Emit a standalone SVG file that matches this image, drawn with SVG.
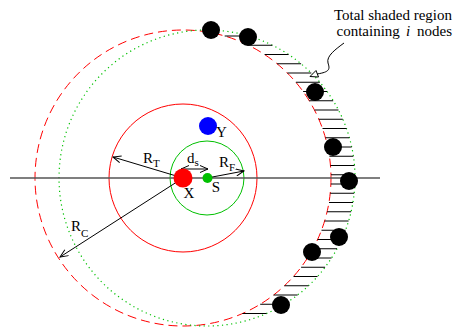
<svg xmlns="http://www.w3.org/2000/svg" width="459" height="327" viewBox="0 0 459 327">
<defs>
<style>
text{font-family:"Liberation Serif","Times New Roman",serif;fill:#000}
.lbl{font-size:15px}
.sub{font-size:11px}
.hatch line{stroke:#000;stroke-width:1}
.arr{stroke:#000;stroke-width:1;fill:none}
</style>
<marker id="ah" markerUnits="userSpaceOnUse" markerWidth="10" markerHeight="8" refX="9" refY="4" orient="auto-start-reverse">
<path d="M1,0.5 L9,4 L1,7.5" fill="none" stroke="#000" stroke-width="1"/>
</marker>
</defs>
<rect width="459" height="327" fill="#fff"/>
<g id="regions">
<circle cx="183" cy="178" r="148" fill="none" stroke="#f00" stroke-width="1" stroke-dasharray="9,5"/>
<circle cx="207" cy="178" r="148" fill="none" stroke="#00c000" stroke-width="1.2" stroke-dasharray="1.2,3.4"/>
<circle cx="183" cy="178" r="74" fill="none" stroke="#f00" stroke-width="1"/>
<circle cx="207" cy="178" r="37" fill="none" stroke="#00c000" stroke-width="1"/>
<line x1="10" y1="178" x2="380" y2="178" stroke="#555" stroke-width="1.3"/>
</g>
<g class="hatch" id="hatch">
<line x1="224.7" y1="36" x2="248.7" y2="36"/>
<line x1="248.4" y1="45.25" x2="272.4" y2="45.25"/>
<line x1="264.6" y1="54.5" x2="288.6" y2="54.5"/>
<line x1="277.1" y1="63.75" x2="301.1" y2="63.75"/>
<line x1="287.3" y1="73" x2="311.3" y2="73"/>
<line x1="295.9" y1="82.25" x2="319.9" y2="82.25"/>
<line x1="303.1" y1="91.5" x2="327.1" y2="91.5"/>
<line x1="309.2" y1="100.75" x2="333.2" y2="100.75"/>
<line x1="314.5" y1="110" x2="338.5" y2="110"/>
<line x1="318.8" y1="119.25" x2="342.8" y2="119.25"/>
<line x1="322.5" y1="128.5" x2="346.5" y2="128.5"/>
<line x1="325.4" y1="137.75" x2="349.4" y2="137.75"/>
<line x1="327.7" y1="147" x2="351.7" y2="147"/>
<line x1="329.4" y1="156.25" x2="353.4" y2="156.25"/>
<line x1="330.5" y1="165.5" x2="354.5" y2="165.5"/>
<line x1="331" y1="174.75" x2="355" y2="174.75"/>
<line x1="330.9" y1="184" x2="354.9" y2="184"/>
<line x1="330.2" y1="193.25" x2="354.2" y2="193.25"/>
<line x1="329" y1="202.5" x2="353" y2="202.5"/>
<line x1="327.1" y1="211.75" x2="351.1" y2="211.75"/>
<line x1="324.6" y1="221" x2="348.6" y2="221"/>
<line x1="321.5" y1="230.25" x2="345.5" y2="230.25"/>
<line x1="317.6" y1="239.5" x2="341.6" y2="239.5"/>
<line x1="313" y1="248.75" x2="337" y2="248.75"/>
<line x1="307.5" y1="258" x2="331.5" y2="258"/>
<line x1="301.1" y1="267.25" x2="325.1" y2="267.25"/>
<line x1="293.5" y1="276.5" x2="317.5" y2="276.5"/>
<line x1="284.5" y1="285.75" x2="308.5" y2="285.75"/>
<line x1="273.6" y1="295" x2="297.6" y2="295"/>
<line x1="260.2" y1="304.25" x2="284.2" y2="304.25"/>
<line x1="242.5" y1="313.5" x2="266.5" y2="313.5"/>
</g>
<g id="connectors">
<line class="arr" x1="183" y1="178" x2="113" y2="157" marker-end="url(#ah)"/>
<line class="arr" x1="183" y1="178" x2="60" y2="257" marker-end="url(#ah)"/>
<line class="arr" x1="207" y1="178" x2="244" y2="171" marker-end="url(#ah)"/>
<line class="arr" x1="181" y1="169" x2="208" y2="169" marker-start="url(#ah)" marker-end="url(#ah)"/>
<path class="arr" d="M344,43 C336,49 326,56 328,63 C330,69 330,72 317,74"/>
<polygon points="310,76.5 316,70.5 318.5,77" fill="#fff" stroke="#000" stroke-width="1"/>
</g>
<g id="node-X"><circle cx="183" cy="178" r="9.5" fill="#f00"/><text class="lbl" x="189" y="198" text-anchor="middle">X</text></g>
<g id="node-S"><circle cx="207.5" cy="178" r="5" fill="#00c000"/><text class="lbl" x="216" y="192" text-anchor="middle">S</text></g>
<g id="node-Y"><circle cx="208" cy="126" r="9" fill="#00f"/><text class="lbl" x="216" y="137">Y</text></g>
<g id="node-1"><circle cx="211" cy="30" r="9" fill="#000"/></g>
<g id="node-2"><circle cx="248" cy="37" r="9" fill="#000"/></g>
<g id="node-3"><circle cx="315" cy="92" r="9" fill="#000"/></g>
<g id="node-4"><circle cx="333" cy="147" r="9" fill="#000"/></g>
<g id="node-5"><circle cx="349" cy="181" r="9" fill="#000"/></g>
<g id="node-6"><circle cx="339" cy="237" r="9" fill="#000"/></g>
<g id="node-7"><circle cx="312" cy="252" r="9" fill="#000"/></g>
<g id="node-8"><circle cx="281" cy="305" r="9" fill="#000"/></g>
<g id="labels">
<text class="lbl" x="143" y="163">R<tspan class="sub" y="167">T</tspan></text>
<text class="lbl" x="187" y="163">d<tspan class="sub" y="166">s</tspan></text>
<text class="lbl" x="219" y="167">R<tspan class="sub" y="171">F</tspan></text>
<text class="lbl" x="71" y="231">R<tspan class="sub" y="237">C</tspan></text>
<text class="lbl" x="452" y="20" text-anchor="end">Total shaded region</text>
<text class="lbl" x="452" y="36" text-anchor="end">containing <tspan font-style="italic" dx="2.5">i</tspan><tspan dx="3"> nodes</tspan></text>
</g>
</svg>
